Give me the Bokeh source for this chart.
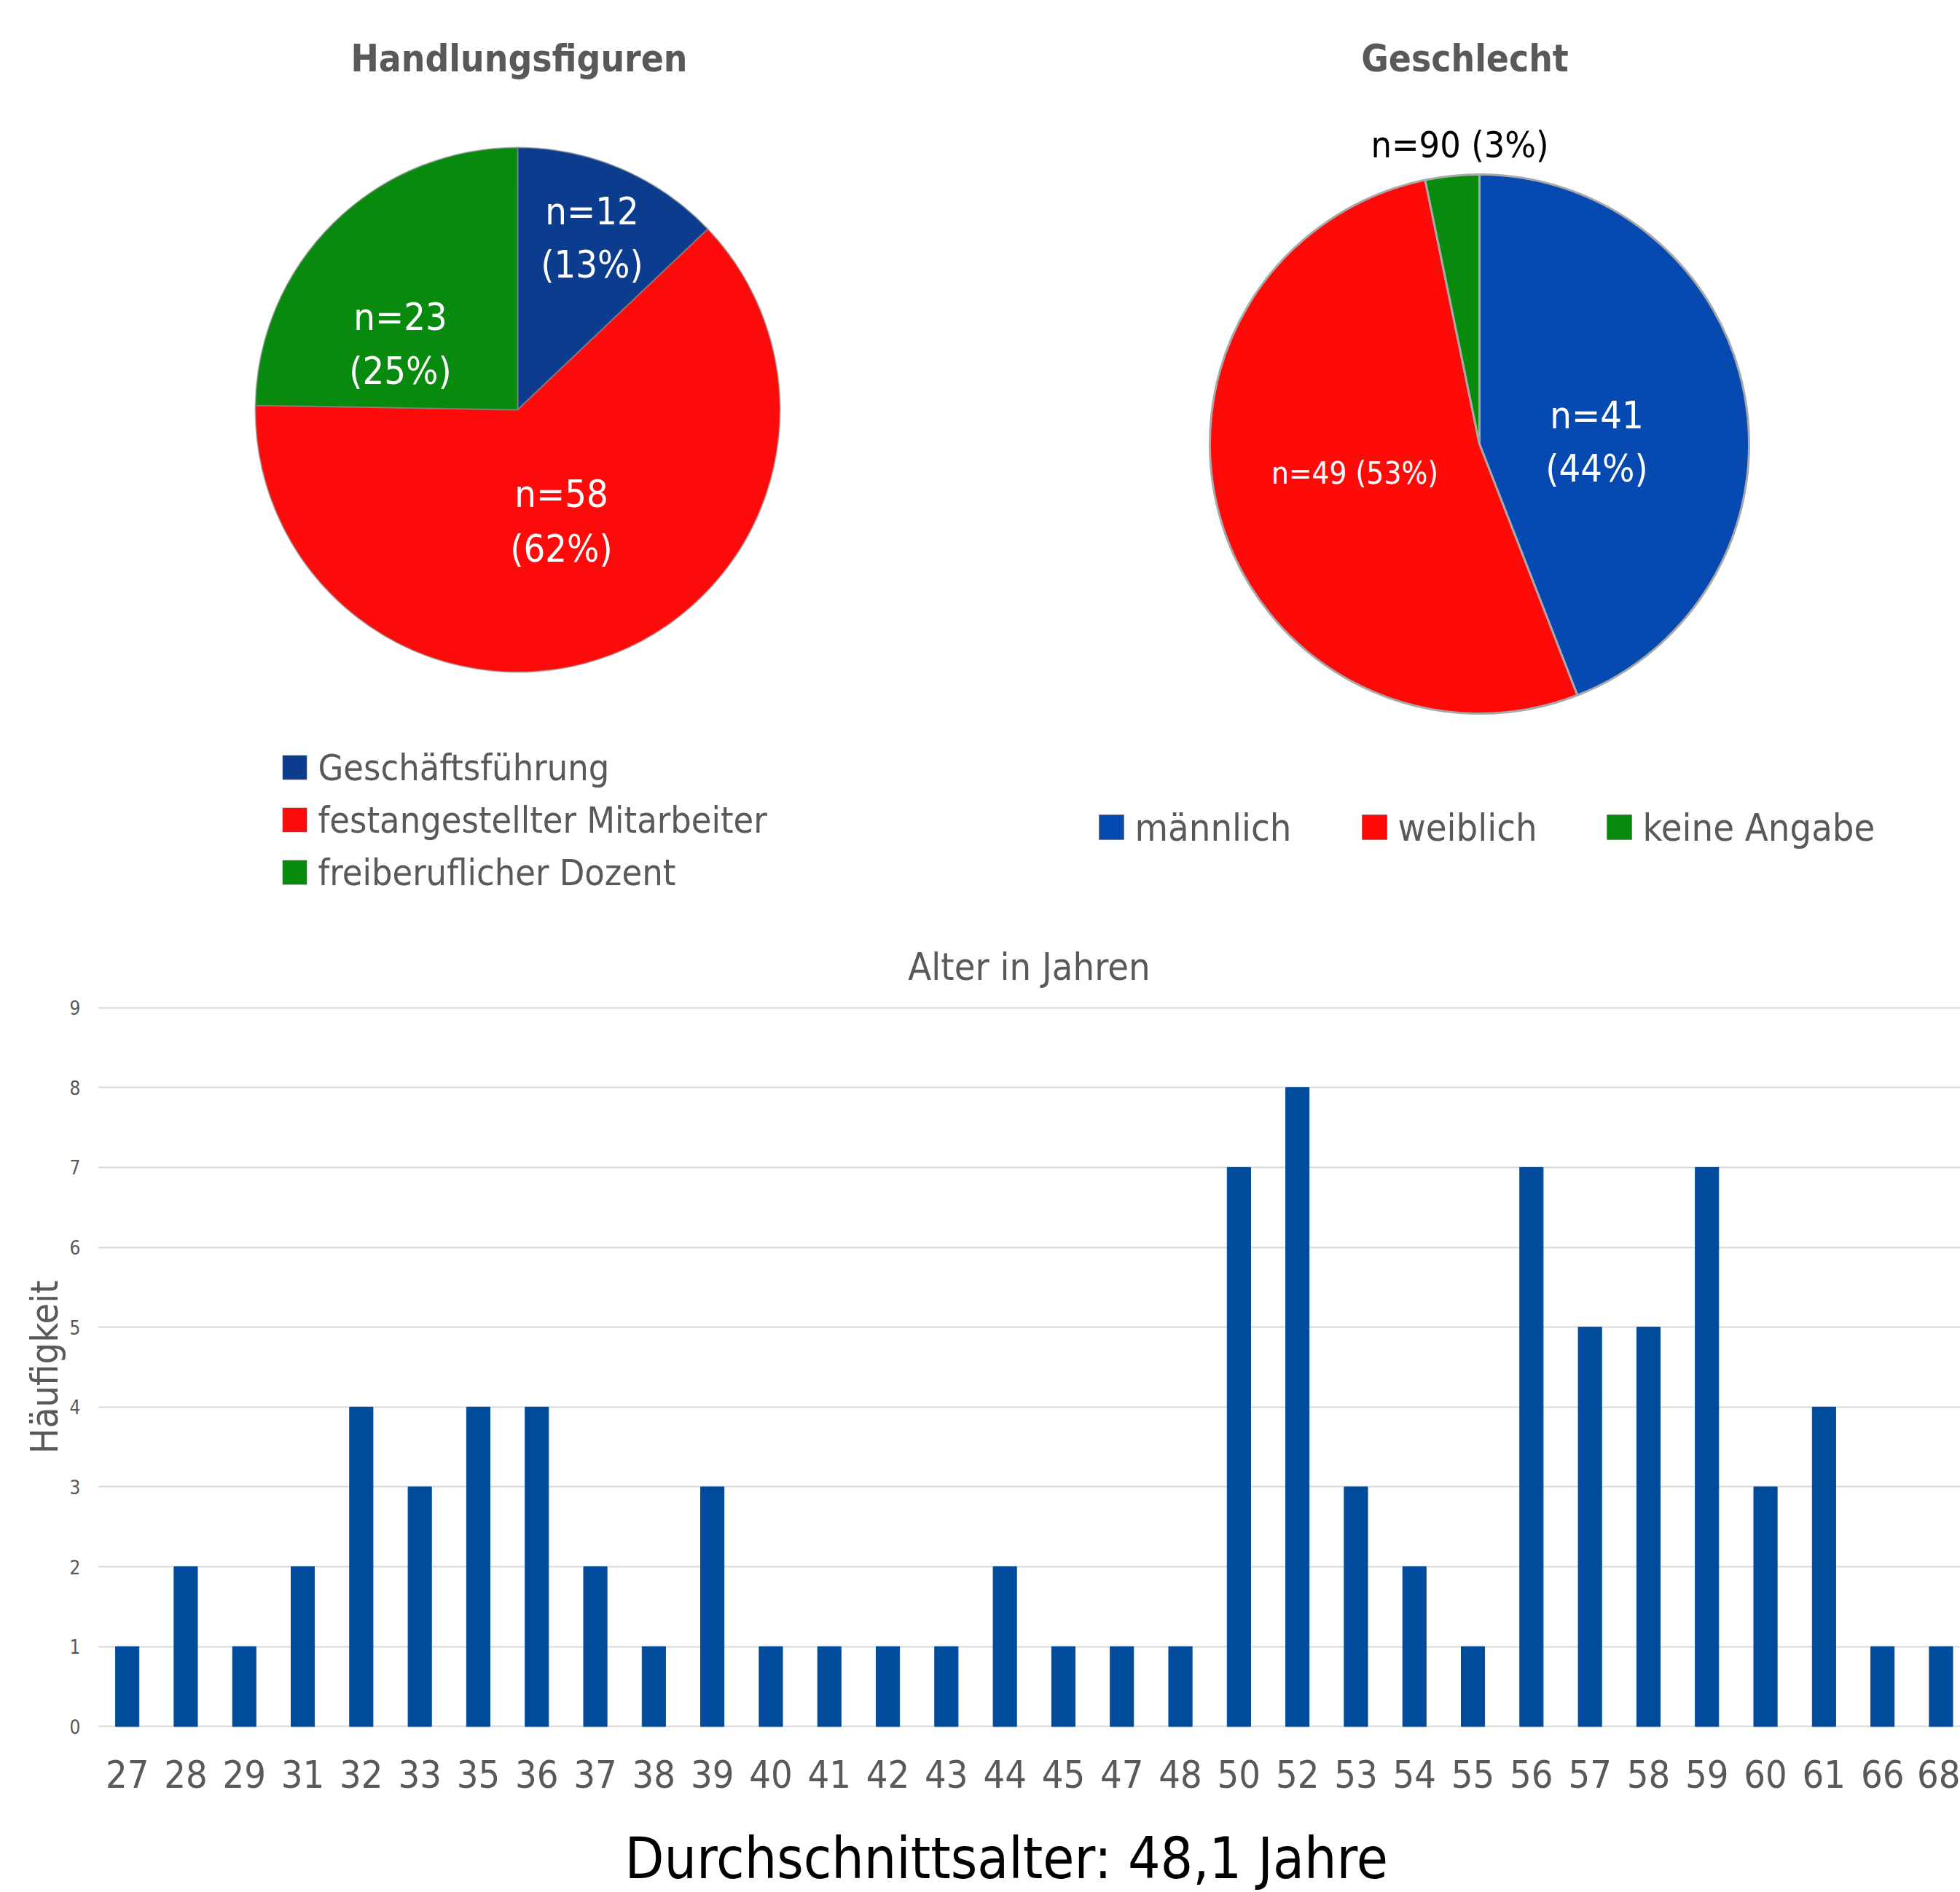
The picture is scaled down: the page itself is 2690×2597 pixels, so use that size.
import numpy as np
from bokeh.plotting import figure
from bokeh.models import Range1d, FixedTicker, ColumnDataSource
from bokeh.layouts import column, row
from bokeh.core.properties import value
from bokeh.embed import file_html
from bokeh.resources import INLINE

FONT = "'DejaVu Sans Condensed', 'Liberation Sans', sans-serif"
GRAY = "#595959"

# ---------------- data ----------------
roles = ["Geschäftsführung", "festangestellter Mitarbeiter", "freiberuflicher Dozent"]
role_counts = [12, 58, 23]
role_line1 = ["n=12", "n=58", "n=23"]
role_line2 = ["(13%)", "(62%)", "(25%)"]
role_colors = ["#0b3c8e", "#ff0a0a", "#078a0d"]

genders = ["männlich", "weiblich", "keine Angabe"]
gender_counts = [41, 49, 3]
gender_line1 = ["n=41", "n=49 (53%)", "n=90 (3%)"]
gender_line2 = ["(44%)", "", ""]
gender_colors = ["#0649b0", "#ff0808", "#078a0d"]

ages = ["27", "28", "29", "31", "32", "33", "35", "36", "37", "38", "39", "40",
        "41", "42", "43", "44", "45", "47", "48", "50", "52", "53", "54", "55",
        "56", "57", "58", "59", "60", "61", "66", "68"]
freq = [1, 2, 1, 2, 4, 3, 4, 4, 2, 1, 3, 1,
        1, 1, 1, 2, 1, 1, 1, 7, 8, 3, 2, 1,
        7, 5, 5, 7, 3, 4, 1, 1]
y_ticks = list(range(0, 10))

PAGE_W = 2690
W_TOP = 1345
H_TOP = 1268


def blank_fig(w, h):
    p = figure(width=w, height=h, x_range=Range1d(0, w), y_range=Range1d(0, h),
               output_backend="svg", toolbar_location=None, min_border=0)
    p.axis.visible = False
    p.grid.visible = False
    p.outline_line_color = None
    return p


def Y(yo):
    return H_TOP - yo


def wedge_angles(counts):
    c = np.array(counts, dtype=float)
    frac = c / c.sum()
    cum = np.cumsum(frac)
    ends = np.pi / 2 - 2 * np.pi * cum
    starts = np.pi / 2 - 2 * np.pi * (cum - frac)
    return ends, starts


# ---------------- pie 1 ----------------
p1 = blank_fig(W_TOP, H_TOP)
e1, s1 = wedge_angles(role_counts)
src1 = ColumnDataSource(dict(start=e1, end=s1, color=role_colors, name=roles))
p1.wedge(x=710, y=Y(562), radius=360, start_angle="start", end_angle="end",
         direction="anticlock", fill_color="color", line_color="#8a8a8a", line_alpha=0.6,
         line_width=2, source=src1)
p1.text(x=[712], y=[Y(80)], text=["Handlungsfiguren"], text_font=value(FONT),
        text_font_size="51px", text_font_style="bold", text_color=GRAY,
        text_align="center", text_baseline="middle")
lab1_x = [812, 770, 549]
lab1_y1 = [Y(289), Y(677), Y(434)]
lab1_y2 = [Y(362), Y(752), Y(508)]
p1.text(x=lab1_x, y=lab1_y1, text=role_line1, text_font=value(FONT), text_font_size="52px",
        text_color="white", text_align="center", text_baseline="middle")
p1.text(x=lab1_x, y=lab1_y2, text=role_line2, text_font=value(FONT), text_font_size="52px",
        text_color="white", text_align="center", text_baseline="middle")
leg1_y = [Y(1053), Y(1125), Y(1197)]
p1.rect(x=[404] * 3, y=leg1_y, width=33, height=33, fill_color=role_colors,
        line_color="#555555", line_alpha=0.5, line_width=1)
p1.text(x=[436] * 3, y=leg1_y, text=roles, text_font=value(FONT), text_font_size="50px",
        text_color=GRAY, text_align="left", text_baseline="middle")

# ---------------- pie 2 ----------------
OFF2 = W_TOP
p2 = blank_fig(PAGE_W - W_TOP, H_TOP)
e2, s2 = wedge_angles(gender_counts)
src2 = ColumnDataSource(dict(start=e2, end=s2, color=gender_colors, name=genders))
p2.wedge(x=2030 - OFF2, y=Y(609), radius=370, start_angle="start", end_angle="end",
         direction="anticlock", fill_color="color", line_color="#a8a8a8", line_width=3,
         source=src2)
p2.text(x=[2010 - OFF2], y=[Y(80)], text=["Geschlecht"], text_font=value(FONT),
        text_font_size="51px", text_font_style="bold", text_color=GRAY,
        text_align="center", text_baseline="middle")
lab2_x = [2191 - OFF2, 1859 - OFF2, 2003 - OFF2]
lab2_y1 = [Y(569), Y(649), Y(198)]
lab2_y2 = [Y(642), Y(649), Y(198)]
lab2_col = ["white", "white", "black"]
lab2_size = ["52px", "42px", "50px"]
p2.text(x=lab2_x, y=lab2_y1, text=gender_line1, text_font=value(FONT), text_font_size=lab2_size,
        text_color=lab2_col, text_align="center", text_baseline="middle")
p2.text(x=lab2_x, y=lab2_y2, text=gender_line2, text_font=value(FONT), text_font_size=lab2_size,
        text_color=lab2_col, text_align="center", text_baseline="middle")
leg2_x = [1525 - OFF2, 1886 - OFF2, 2222 - OFF2]
p2.rect(x=leg2_x, y=[Y(1135)] * 3, width=34, height=34, fill_color=gender_colors,
        line_color="#555555", line_alpha=0.5, line_width=1)
p2.text(x=[v + 32 for v in leg2_x], y=[Y(1135)] * 3, text=genders, text_font=value(FONT),
        text_font_size="52px", text_color=GRAY, text_align="left", text_baseline="middle")

# ---------------- bar chart ----------------
BAND = 80.3
FRAME_LEFT = 134
FRAME_TOP = 1381
FRAME_BOTTOM = 2371
BAR_BOTTOM = 2480
H_BAR = BAR_BOTTOM - H_TOP
frame_w = PAGE_W - FRAME_LEFT
x_end = -0.5 + frame_w / BAND

p3 = figure(width=PAGE_W, height=H_BAR, x_range=Range1d(-0.5, x_end),
            y_range=Range1d(-0.015, 9.015),
            output_backend="svg", toolbar_location=None,
            min_border_left=FRAME_LEFT, min_border_right=0,
            min_border_top=FRAME_TOP - H_TOP, min_border_bottom=BAR_BOTTOM - FRAME_BOTTOM)
p3.outline_line_color = None
idx = list(range(len(ages)))
p3.vbar(x=idx, top=freq, width=0.4, fill_color="#004b9b", line_color="#004b9b")

p3.title.text = "Alter in Jahren"
p3.title.align = "center"
p3.title.text_font = FONT
p3.title.text_font_size = "52px"
p3.title.text_font_style = "normal"
p3.title.text_color = GRAY
p3.title.standoff = 50

p3.xgrid.visible = False
p3.ygrid.ticker = FixedTicker(ticks=y_ticks)
p3.ygrid.grid_line_color = "#d9d9d9"
p3.ygrid.grid_line_width = 2

p3.yaxis.ticker = FixedTicker(ticks=y_ticks)
p3.yaxis.axis_line_color = None
p3.yaxis.major_tick_line_color = None
p3.yaxis.minor_tick_line_color = None
p3.yaxis.major_label_text_font = FONT
p3.yaxis.major_label_text_font_size = "26px"
p3.yaxis.major_label_text_color = GRAY
p3.yaxis.major_label_standoff = 18
p3.yaxis.axis_label = "Häufigkeit"
p3.yaxis.axis_label_text_font = FONT
p3.yaxis.axis_label_text_font_size = "52px"
p3.yaxis.axis_label_text_font_style = "normal"
p3.yaxis.axis_label_text_color = GRAY
p3.yaxis.axis_label_standoff = 2

p3.xaxis.ticker = FixedTicker(ticks=idx)
p3.xaxis.major_label_overrides = {i: a for i, a in zip(idx, ages)}
p3.xaxis.axis_line_color = None
p3.xaxis.major_tick_line_color = None
p3.xaxis.minor_tick_line_color = None
p3.xaxis.major_label_text_font = FONT
p3.xaxis.major_label_text_font_size = "52px"
p3.xaxis.major_label_text_color = GRAY
p3.xaxis.major_label_standoff = 38

# ---------------- average text ----------------
H_D = 2597 - BAR_BOTTOM
p4 = blank_fig(PAGE_W, H_D)
p4.text(x=[1312], y=[H_D - (2550 - BAR_BOTTOM)], text=["Durchschnittsalter: 48,1 Jahre"],
        text_font=value(FONT), text_font_size="78px", text_color="black",
        text_align="center", text_baseline="middle")

layout = column(row(p1, p2), p3, p4)
open("out.html", "w").write(file_html(layout, INLINE))
